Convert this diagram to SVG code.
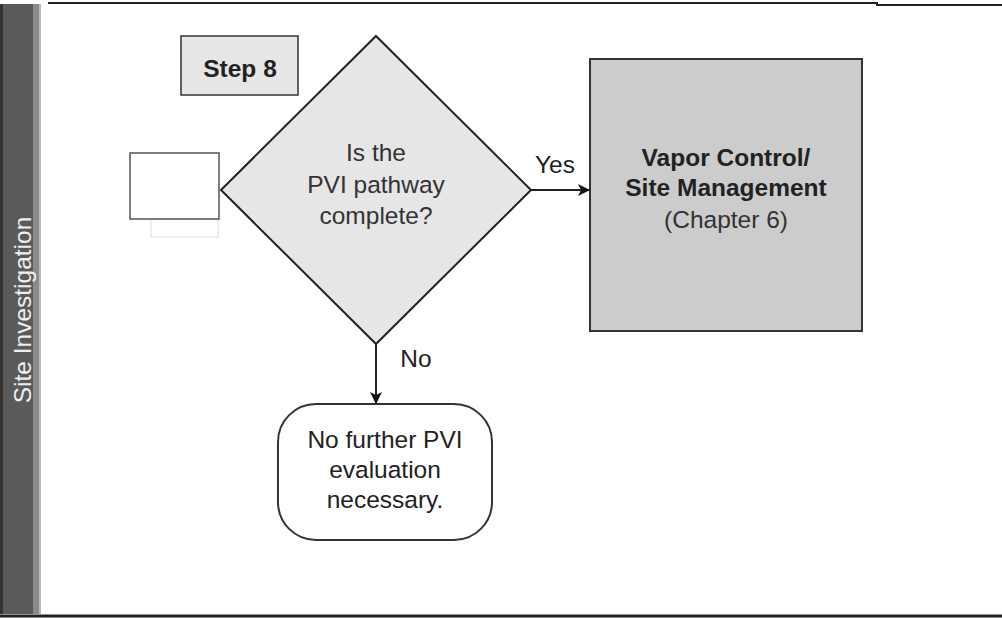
<svg xmlns="http://www.w3.org/2000/svg" width="1002" height="618" viewBox="0 0 1002 618">
<defs>
<style>
.t{font-family:"Liberation Sans",Arial,sans-serif;fill:#222;text-anchor:middle;font-size:24.5px}
.b{font-weight:bold}
.ln{stroke:#222;stroke-width:2;fill:none}
</style>
<marker id="ah" viewBox="0 0 12 12" refX="11" refY="6" markerWidth="12" markerHeight="12" markerUnits="userSpaceOnUse" orient="auto">
<path d="M0,0 L12,6 L0,12 L3,6 Z" fill="#111"/>
</marker>
</defs>
<rect width="1002" height="618" fill="#fff"/>
<g id="frame">
<rect x="0" y="4" width="40" height="610" fill="#5a5a5a"/>
<rect x="0" y="4" width="3" height="610" fill="#333"/>
<rect x="33" y="4" width="6" height="610" fill="#8a8a8a"/>
<rect x="39" y="4" width="2" height="610" fill="#bbb"/>
<polyline points="48,3 877,3 877,5 1002,5" fill="none" stroke="#222" stroke-width="2"/>
<line x1="0" y1="616" x2="1002" y2="616" stroke="#222" stroke-width="3"/>
<text class="t" transform="translate(31,310) rotate(-90)" style="fill:#eee">Site Investigation</text>
</g>
<g id="connectors">
<line class="ln" x1="531" y1="190" x2="589" y2="190" marker-end="url(#ah)"/>
<line class="ln" x1="376" y1="344" x2="376" y2="403" marker-end="url(#ah)"/>
<text class="t" x="555" y="173">Yes</text>
<text class="t" x="416" y="367">No</text>
</g>
<g id="step8">
<rect x="181" y="36" width="117" height="59" fill="#e6e6e6" stroke="#333" stroke-width="1.5"/>
<text class="t b" x="240" y="77">Step 8</text>
</g>
<g id="smallbox">
<rect x="151" y="219" width="67" height="18" fill="#fff" stroke="#ddd" stroke-width="1"/>
<rect x="130" y="153" width="89" height="66" fill="#fff" stroke="#555" stroke-width="1.5"/>
</g>
<g id="decision">
<polygon points="376,36 531,190 376,344 221,190" fill="#e6e6e6" stroke="#222" stroke-width="2"/>
<text class="t" x="376" y="161" style="fill:#333">Is the</text>
<text class="t" x="376" y="193" style="fill:#333">PVI pathway</text>
<text class="t" x="376" y="224" style="fill:#333">complete?</text>
</g>
<g id="vapor">
<rect x="590" y="59" width="272" height="272" fill="#cccccc" stroke="#333" stroke-width="2"/>
<text class="t b" x="726" y="166">Vapor Control/</text>
<text class="t b" x="726" y="196">Site Management</text>
<text class="t" x="726" y="228" style="fill:#333">(Chapter 6)</text>
</g>
<g id="nofurther">
<rect x="278" y="404" width="214" height="136" rx="38" ry="38" fill="#fff" stroke="#333" stroke-width="2"/>
<text class="t" x="385" y="448">No further PVI</text>
<text class="t" x="385" y="478">evaluation</text>
<text class="t" x="385" y="508">necessary.</text>
</g>
</svg>
